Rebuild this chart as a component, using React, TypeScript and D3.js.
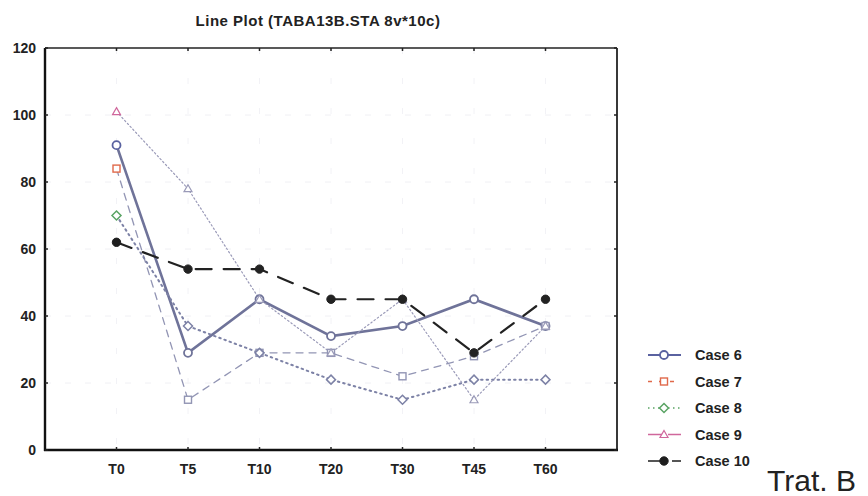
import React from "react";
import * as d3 from "d3";

const categories = ["T0", "T5", "T10", "T20", "T30", "T45", "T60"];
const yTicks = [0, 20, 40, 60, 80, 100, 120];
const case6 = [91, 29, 45, 34, 37, 45, 37];
const case7 = [84, 15, 29, 29, 22, 28, 37];
const case8 = [70, 37, 29, 21, 15, 21, 21];
const case9 = [101, 78, 45, 29, 45, 15, 37];
const case10 = [62, 54, 54, 45, 45, 29, 45];
const seriesNames = ["Case 6", "Case 7", "Case 8", "Case 9", "Case 10"];
const title = "Line Plot (TABA13B.STA 8v*10c)";
const sideNote = "Trat. B";

type Style = {
  color: string;
  lineColor: string;
  width: number;
  dash: string;
  legendDash: string;
  marker: "circle" | "square" | "diamond" | "triangle" | "dot";
};

const styles: Style[] = [
  { color: "#5a62a0", lineColor: "#6f7399", width: 2.6, dash: "", legendDash: "", marker: "circle" },
  { color: "#e0694a", lineColor: "#9295b4", width: 1.3, dash: "7,6", legendDash: "4,7", marker: "square" },
  { color: "#5aa464", lineColor: "#7d82a6", width: 2, dash: "1.5,4", legendDash: "1.5,3.5", marker: "diamond" },
  { color: "#d0679c", lineColor: "#9a9ab8", width: 1.2, dash: "1.5,2.5", legendDash: "14,6", marker: "triangle" },
  { color: "#1e1e1e", lineColor: "#222222", width: 2.2, dash: "16,12", legendDash: "16,8", marker: "dot" },
];

const allSeries = [case6, case7, case8, case9, case10];

function Marker({ kind, x, y, color }: { kind: Style["marker"]; x: number; y: number; color: string }) {
  if (kind === "circle")
    return <circle cx={x} cy={y} r={4} fill="#fff" stroke={color} strokeWidth={1.8} />;
  if (kind === "square")
    return <rect x={x - 3.5} y={y - 3.5} width={7} height={7} fill="#fff" stroke={color} strokeWidth={1.4} />;
  if (kind === "diamond")
    return (
      <path d={`M${x},${y - 4.5}L${x + 4.5},${y}L${x},${y + 4.5}L${x - 4.5},${y}Z`} fill="#fff" stroke={color} strokeWidth={1.5} />
    );
  if (kind === "triangle")
    return (
      <path d={`M${x},${y - 4}L${x + 4},${y + 3}L${x - 4},${y + 3}Z`} fill="#fff" stroke={color} strokeWidth={1.2} />
    );
  return <circle cx={x} cy={y} r={4.2} fill={color} stroke={color} />;
}

export default function App() {
  const W = 868;
  const H = 496;
  const left = 45;
  const right = 617;
  const top = 48;
  const bottom = 450;

  const x = d3.scalePoint<string>().domain(categories).range([left, right]).padding(1);
  const y = d3.scaleLinear().domain([0, 120]).range([bottom, top]);

  const line = d3
    .line<number>()
    .x((_, i) => x(categories[i]) as number)
    .y((d) => y(d));

  const font = "'Liberation Sans', Arial, sans-serif";

  return (
    <svg width={W} height={H} style={{ position: "absolute", left: 0, top: 0, background: "#fff" }} fontFamily={font}>
      <rect x={0} y={0} width={W} height={H} fill="#fff" />
      <text x={318} y={26} textAnchor="middle" fontSize={15} fontWeight="bold" letterSpacing={0.5} fill="#222">
        {title}
      </text>

      {/* faint grid */}
      {yTicks.slice(1, -1).map((t) => (
        <line key={"gy" + t} x1={left} x2={right} y1={y(t)} y2={y(t)} stroke="#f0f0f4" strokeWidth={1} strokeDasharray="6,14" />
      ))}
      {categories.map((c) => (
        <line key={"gx" + c} x1={x(c)} x2={x(c)} y1={top} y2={bottom} stroke="#f2f2f6" strokeWidth={1} strokeDasharray="6,24" />
      ))}

      {/* series lines */}
      {allSeries.map((vals, si) => (
        <path
          key={"l" + si}
          d={line(vals) || ""}
          fill="none"
          stroke={styles[si].lineColor}
          strokeWidth={styles[si].width}
          strokeDasharray={styles[si].dash}
          strokeLinecap="round"
        />
      ))}
      {allSeries.map((vals, si) =>
        vals.map((v, i) => (
          <Marker
            key={"m" + si + "-" + i}
            kind={styles[si].marker}
            x={x(categories[i]) as number}
            y={y(v)}
            color={i === 0 ? styles[si].color : styles[si].lineColor}
          />
        ))
      )}

      {/* frame */}
      <line x1={left} x2={right} y1={top} y2={top} stroke="#222" strokeWidth={1.5} />
      <line x1={right} x2={right} y1={top} y2={bottom} stroke="#222" strokeWidth={1.8} />
      <line x1={left} x2={left} y1={top} y2={bottom + 1} stroke="#111" strokeWidth={2.4} />
      <line x1={left - 1} x2={right + 1} y1={bottom} y2={bottom} stroke="#111" strokeWidth={2.4} />

      {/* ticks */}
      {yTicks.map((t) => (
        <g key={"yt" + t}>
          <line x1={left} x2={left + 3} y1={y(t)} y2={y(t)} stroke="#222" strokeWidth={1.5} />
          <line x1={right - 3} x2={right} y1={y(t)} y2={y(t)} stroke="#222" strokeWidth={1.5} />
          <text x={36} y={y(t) + 5} textAnchor="end" fontSize={14} fontWeight="bold" fill="#222">
            {t}
          </text>
        </g>
      ))}
      {categories.map((c) => (
        <g key={"xt" + c}>
          <line x1={x(c)} x2={x(c)} y1={bottom - 3} y2={bottom} stroke="#222" strokeWidth={1.5} />
          <line x1={x(c)} x2={x(c)} y1={top} y2={top + 3} stroke="#222" strokeWidth={1.5} />
          <text x={x(c)} y={474} textAnchor="middle" fontSize={14} fontWeight="bold" fill="#222">
            {c}
          </text>
        </g>
      ))}

      {/* legend */}
      {seriesNames.map((n, i) => {
        const ly = 355 + i * 26.5;
        const st = styles[i];
        return (
          <g key={"lg" + n}>
            <line
              x1={648}
              x2={681}
              y1={ly}
              y2={ly}
              stroke={st.color}
              strokeWidth={i === 0 ? 2 : 1.6}
              strokeDasharray={st.legendDash}
            />
            <Marker kind={st.marker} x={664} y={ly} color={st.color} />
            <text x={695} y={ly + 5} fontSize={14.5} fontWeight="bold" fill="#222">
              {n}
            </text>
          </g>
        );
      })}

      <text x={767} y={491} fontSize={30} fill="#222">
        {sideNote}
      </text>
    </svg>
  );
}
